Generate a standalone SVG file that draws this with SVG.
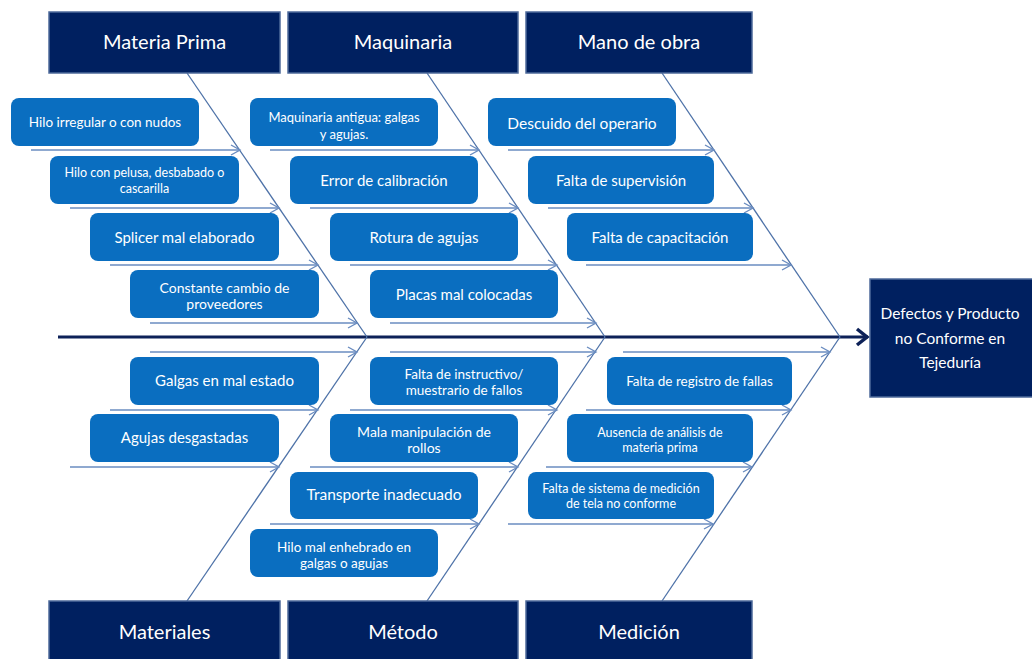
<svg xmlns="http://www.w3.org/2000/svg" width="1032" height="659" viewBox="0 0 1032 659">
  <style>
    .head { fill: #002060; stroke: #4d6a9a; stroke-width: 1.5; }
    .head-t { font-family: Lato, "Liberation Sans", sans-serif; font-size: 20px; fill: #ffffff; text-anchor: middle; }
    .eff-t { font-family: Lato, "Liberation Sans", sans-serif; font-size: 15.5px; fill: #ffffff; text-anchor: middle; }
    .cause { fill: #0a6ec0; }
    .cause-t { font-family: Lato, "Liberation Sans", sans-serif; fill: #ffffff; text-anchor: middle; }
    .bone { stroke: #4e72a8; stroke-width: 1.3; fill: none; }
    .sub { stroke: #6a8cc0; stroke-width: 1.6; fill: none; marker-end: url(#tip); }
    .spine { stroke: #0d2158; stroke-width: 3; fill: none; }
  </style>
  <defs>
    <marker id="tip" markerUnits="userSpaceOnUse" markerWidth="12" markerHeight="12" refX="10" refY="6" orient="auto">
      <path d="M1,1 L10,6 L1,11" fill="none" stroke="#6a8cc0" stroke-width="1.4"/>
    </marker>
    <marker id="head" markerUnits="userSpaceOnUse" markerWidth="16" markerHeight="20" refX="13" refY="10" orient="auto">
      <path d="M2,2 L12,10 L2,18" fill="none" stroke="#0d2158" stroke-width="3.5"/>
    </marker>
  </defs>

  <rect width="1032" height="659" fill="#ffffff"/>

  <!-- connectors: spine, category bones and cause arrows -->
  <g id="connectors">
    <line class="spine" x1="58" y1="337" x2="868" y2="337" marker-end="url(#head)"/>
    <line class="bone" x1="187" y1="73" x2="367" y2="337"/>
    <line class="bone" x1="427" y1="73" x2="605" y2="337"/>
    <line class="bone" x1="662" y1="73" x2="840" y2="337"/>
    <line class="bone" x1="187" y1="601" x2="367" y2="337"/>
    <line class="bone" x1="427" y1="601" x2="605" y2="337"/>
    <line class="bone" x1="662" y1="601" x2="840" y2="337"/>

    <line class="sub" x1="31" y1="150" x2="240" y2="150"/>
    <line class="sub" x1="70" y1="208" x2="279" y2="208"/>
    <line class="sub" x1="110" y1="265" x2="318" y2="265"/>
    <line class="sub" x1="150" y1="323" x2="357" y2="323"/>
    <line class="sub" x1="150" y1="352" x2="357" y2="352"/>
    <line class="sub" x1="110" y1="410" x2="318" y2="410"/>
    <line class="sub" x1="70" y1="467" x2="279" y2="467"/>

    <line class="sub" x1="270" y1="150" x2="479" y2="150"/>
    <line class="sub" x1="310" y1="208" x2="518" y2="208"/>
    <line class="sub" x1="350" y1="265" x2="557" y2="265"/>
    <line class="sub" x1="390" y1="323" x2="596" y2="323"/>
    <line class="sub" x1="390" y1="352" x2="596" y2="352"/>
    <line class="sub" x1="350" y1="410" x2="557" y2="410"/>
    <line class="sub" x1="310" y1="467" x2="518" y2="467"/>
    <line class="sub" x1="270" y1="524" x2="479" y2="524"/>

    <line class="sub" x1="508" y1="150" x2="714" y2="150"/>
    <line class="sub" x1="548" y1="208" x2="753" y2="208"/>
    <line class="sub" x1="586" y1="265" x2="791" y2="265"/>
    <line class="sub" x1="623" y1="352" x2="830" y2="352"/>
    <line class="sub" x1="586" y1="410" x2="791" y2="410"/>
    <line class="sub" x1="546" y1="467" x2="752" y2="467"/>
    <line class="sub" x1="508" y1="524" x2="713" y2="524"/>
  </g>

  <!-- category headers -->
  <g id="materia-prima">
    <rect class="head" x="49" y="12" width="231" height="61"/>
    <text class="head-t" x="164.5" y="49">Materia Prima</text>
  </g>
  <g id="maquinaria">
    <rect class="head" x="288" y="12" width="230" height="61"/>
    <text class="head-t" x="403" y="49">Maquinaria</text>
  </g>
  <g id="mano-de-obra">
    <rect class="head" x="526" y="12" width="226" height="61"/>
    <text class="head-t" x="639" y="49">Mano de obra</text>
  </g>
  <g id="materiales">
    <rect class="head" x="49" y="601" width="231" height="70"/>
    <text class="head-t" x="164.5" y="638.5">Materiales</text>
  </g>
  <g id="metodo">
    <rect class="head" x="288" y="601" width="230" height="70"/>
    <text class="head-t" x="403" y="638.5">Método</text>
  </g>
  <g id="medicion">
    <rect class="head" x="526" y="601" width="226" height="70"/>
    <text class="head-t" x="639" y="638.5">Medición</text>
  </g>

  <!-- effect -->
  <g id="efecto">
    <rect class="head" x="870" y="279" width="170" height="118"/>
    <text class="eff-t" x="950" y="318.5">Defectos y Producto</text>
    <text class="eff-t" x="950" y="343.5">no Conforme en</text>
    <text class="eff-t" x="950" y="367.5">Tejeduría</text>
  </g>

  <!-- Materia Prima causes -->
  <g id="mp-1">
    <rect class="cause" x="11" y="98" width="188" height="48" rx="8"/>
    <text class="cause-t" x="105" y="127" font-size="13.5">Hilo irregular o con nudos</text>
  </g>
  <g id="mp-2">
    <rect class="cause" x="50" y="156" width="189" height="48" rx="8"/>
    <text class="cause-t" x="144.5" y="177" font-size="12.5">Hilo con pelusa, desbabado o</text>
    <text class="cause-t" x="144.5" y="192.5" font-size="12.5">cascarilla</text>
  </g>
  <g id="mp-3">
    <rect class="cause" x="90" y="213" width="189" height="48" rx="8"/>
    <text class="cause-t" x="184.5" y="242.5" font-size="15">Splicer mal elaborado</text>
  </g>
  <g id="mp-4">
    <rect class="cause" x="130" y="270" width="189" height="48" rx="8"/>
    <text class="cause-t" x="224.5" y="292.5" font-size="14">Constante cambio de</text>
    <text class="cause-t" x="224.5" y="309" font-size="14">proveedores</text>
  </g>

  <!-- Materiales causes -->
  <g id="mat-1">
    <rect class="cause" x="130" y="357" width="189" height="48" rx="8"/>
    <text class="cause-t" x="224.5" y="385.5" font-size="15">Galgas en mal estado</text>
  </g>
  <g id="mat-2">
    <rect class="cause" x="90" y="414" width="189" height="48" rx="8"/>
    <text class="cause-t" x="184.5" y="443" font-size="15">Agujas desgastadas</text>
  </g>

  <!-- Maquinaria causes -->
  <g id="maq-1">
    <rect class="cause" x="250" y="98" width="188" height="48" rx="8"/>
    <text class="cause-t" x="344" y="121.5" font-size="13">Maquinaria antigua: galgas</text>
    <text class="cause-t" x="344" y="138.5" font-size="13">y agujas.</text>
  </g>
  <g id="maq-2">
    <rect class="cause" x="290" y="156" width="188" height="48" rx="8"/>
    <text class="cause-t" x="384" y="185.5" font-size="15">Error de calibración</text>
  </g>
  <g id="maq-3">
    <rect class="cause" x="330" y="213" width="188" height="48" rx="8"/>
    <text class="cause-t" x="424" y="242.5" font-size="15">Rotura de agujas</text>
  </g>
  <g id="maq-4">
    <rect class="cause" x="370" y="270" width="188" height="48" rx="8"/>
    <text class="cause-t" x="464" y="300" font-size="15">Placas mal colocadas</text>
  </g>

  <!-- Método causes -->
  <g id="met-1">
    <rect class="cause" x="370" y="357" width="188" height="48" rx="8"/>
    <text class="cause-t" x="464" y="378.5" font-size="13.5">Falta de instructivo/</text>
    <text class="cause-t" x="464" y="395" font-size="13.5">muestrario de fallos</text>
  </g>
  <g id="met-2">
    <rect class="cause" x="330" y="414" width="188" height="48" rx="8"/>
    <text class="cause-t" x="424" y="437" font-size="14">Mala manipulación de</text>
    <text class="cause-t" x="424" y="453" font-size="14">rollos</text>
  </g>
  <g id="met-3">
    <rect class="cause" x="290" y="472" width="188" height="47" rx="8"/>
    <text class="cause-t" x="384" y="499.5" font-size="15.5">Transporte inadecuado</text>
  </g>
  <g id="met-4">
    <rect class="cause" x="250" y="529" width="188" height="48" rx="8"/>
    <text class="cause-t" x="344" y="551.5" font-size="13.5">Hilo mal enhebrado en</text>
    <text class="cause-t" x="344" y="567.5" font-size="13.5">galgas o agujas</text>
  </g>

  <!-- Mano de obra causes -->
  <g id="mo-1">
    <rect class="cause" x="488" y="98" width="188" height="48" rx="8"/>
    <text class="cause-t" x="582" y="128.5" font-size="15.5">Descuido del operario</text>
  </g>
  <g id="mo-2">
    <rect class="cause" x="528" y="156" width="186" height="48" rx="8"/>
    <text class="cause-t" x="621" y="185.5" font-size="15">Falta de supervisión</text>
  </g>
  <g id="mo-3">
    <rect class="cause" x="567" y="213" width="186" height="48" rx="8"/>
    <text class="cause-t" x="660" y="242.5" font-size="15">Falta de capacitación</text>
  </g>

  <!-- Medición causes -->
  <g id="med-1">
    <rect class="cause" x="607" y="357" width="185" height="48" rx="8"/>
    <text class="cause-t" x="699.5" y="386" font-size="13.5">Falta de registro de fallas</text>
  </g>
  <g id="med-2">
    <rect class="cause" x="567" y="414" width="186" height="48" rx="8"/>
    <text class="cause-t" x="660" y="436.5" font-size="12.5">Ausencia de análisis de</text>
    <text class="cause-t" x="660" y="451.5" font-size="12.5">materia prima</text>
  </g>
  <g id="med-3">
    <rect class="cause" x="528" y="472" width="186" height="47" rx="8"/>
    <text class="cause-t" x="621" y="492.5" font-size="12.5">Falta de sistema de medición</text>
    <text class="cause-t" x="621" y="507.5" font-size="12.5">de tela no conforme</text>
  </g>
</svg>
